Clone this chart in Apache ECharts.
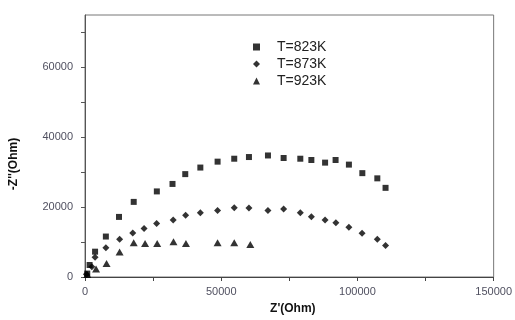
<!DOCTYPE html>
<html>
<head>
<meta charset="utf-8">
<script src="https://cdn.jsdelivr.net/npm/echarts@6/dist/echarts.min.js"></script>
<style>
html,body{margin:0;padding:0;background:#fff;}
#chart{width:515px;height:320px;}
</style>
</head>
<body>
<div id="chart"></div>
<script>
const seriesNames = ['T=823K', 'T=873K', 'T=923K'];

const x823 = [830, 1690, 3700, 7660, 12480, 17880, 26370, 32120, 36800, 42340, 48670, 54780, 60180, 67160, 72910, 79030, 83090, 88130, 91980, 96870, 101800, 107300, 110320];
const y823 = [980, 3430, 7250, 11580, 17200, 21500, 24500, 26640, 29450, 31330, 33020, 33860, 34340, 34790, 34060, 33860, 33500, 32740, 33500, 32170, 29730, 28240, 25520];

const x873 = [500, 2500, 3700, 7660, 12700, 17520, 21690, 26300, 32370, 36940, 42340, 48670, 54780, 60180, 67160, 72910, 79030, 83090, 88130, 92080, 96870, 101690, 107300, 110320];
const y873 = [800, 2900, 5680, 8370, 10820, 12590, 13910, 15300, 16350, 17650, 18410, 19050, 19810, 19730, 19050, 19450, 18410, 17280, 16350, 15510, 14270, 12500, 10820, 9050];

const x923 = [830, 4060, 7910, 12700, 17880, 22050, 26500, 32480, 37050, 48670, 54780, 60680];
const y923 = [700, 2300, 3880, 7170, 9780, 9610, 9610, 10060, 9610, 9780, 9780, 9330];

const xTicks = [0, 25000, 50000, 75000, 100000, 125000, 150000];
const xLabels = [0, 50000, 100000, 150000];
const yTicks = [0, 10000, 20000, 30000, 40000, 50000, 60000, 70000];
const yLabels = [0, 20000, 40000, 60000];

function pairs(xs, ys) { return xs.map((x, i) => [x, ys[i]]); }

const chart = echarts.init(document.getElementById('chart'), null, {renderer: 'canvas'});
const labelStyle = {color: '#505060', fontSize: 11, fontFamily: 'Liberation Sans, Arial, sans-serif', formatter: v => String(v)};
chart.setOption({
  animation: false,
  backgroundColor: '#fff',
  grid: {left: 85, right: 13, top: 15, bottom: 38, show: true, borderColor: '#777', borderWidth: 1, backgroundColor: 'transparent'},
  legend: {
    orient: 'vertical', left: 248, top: 35,
    itemWidth: 7, itemHeight: 7, itemGap: 3,
    data: seriesNames,
    textStyle: {color: '#222', fontSize: 14, fontFamily: 'Liberation Sans, Arial, sans-serif', padding: [0, 0, 0, 12]}
  },
  xAxis: {
    type: 'value', min: 0, max: 150000,
    name: "Z'(Ohm)", nameLocation: 'middle', nameGap: 26,
    nameTextStyle: {color: '#111', fontSize: 12, fontWeight: 'bold', fontFamily: 'Liberation Sans, Arial, sans-serif', padding: [0, 0, 0, 7]},
    axisLine: {show: true, lineStyle: {color: '#444', width: 1}},
    axisTick: {show: true, inside: false, length: 4, customValues: xTicks, lineStyle: {color: '#444'}},
    axisLabel: {show: true, margin: 9, customValues: xLabels, ...labelStyle},
    splitLine: {show: false}
  },
  yAxis: {
    type: 'value', min: 0, max: 75000,
    name: "-Z''(Ohm)", nameLocation: 'middle', nameGap: 65, nameRotate: 90,
    nameTextStyle: {color: '#111', fontSize: 12, fontWeight: 'bold', fontFamily: 'Liberation Sans, Arial, sans-serif', padding: [0, 36, 0, 0]},
    axisLine: {show: true, lineStyle: {color: '#555', width: 1}},
    axisTick: {show: true, inside: false, length: 4, customValues: yTicks, lineStyle: {color: '#555'}},
    axisLabel: {show: true, margin: 12, customValues: yLabels, ...labelStyle},
    splitLine: {show: false}
  },
  series: [
    {name: seriesNames[0], type: 'scatter', symbol: 'rect', symbolSize: 6, itemStyle: {color: '#000'}, data: pairs(x823, y823)},
    {name: seriesNames[1], type: 'scatter', symbol: 'diamond', symbolSize: [7, 7], itemStyle: {color: '#000'}, data: pairs(x873, y873)},
    {name: seriesNames[2], type: 'scatter', symbol: 'triangle', symbolSize: [8, 7], itemStyle: {color: '#000'}, data: pairs(x923, y923)}
  ]
});
</script>
</body>
</html>
